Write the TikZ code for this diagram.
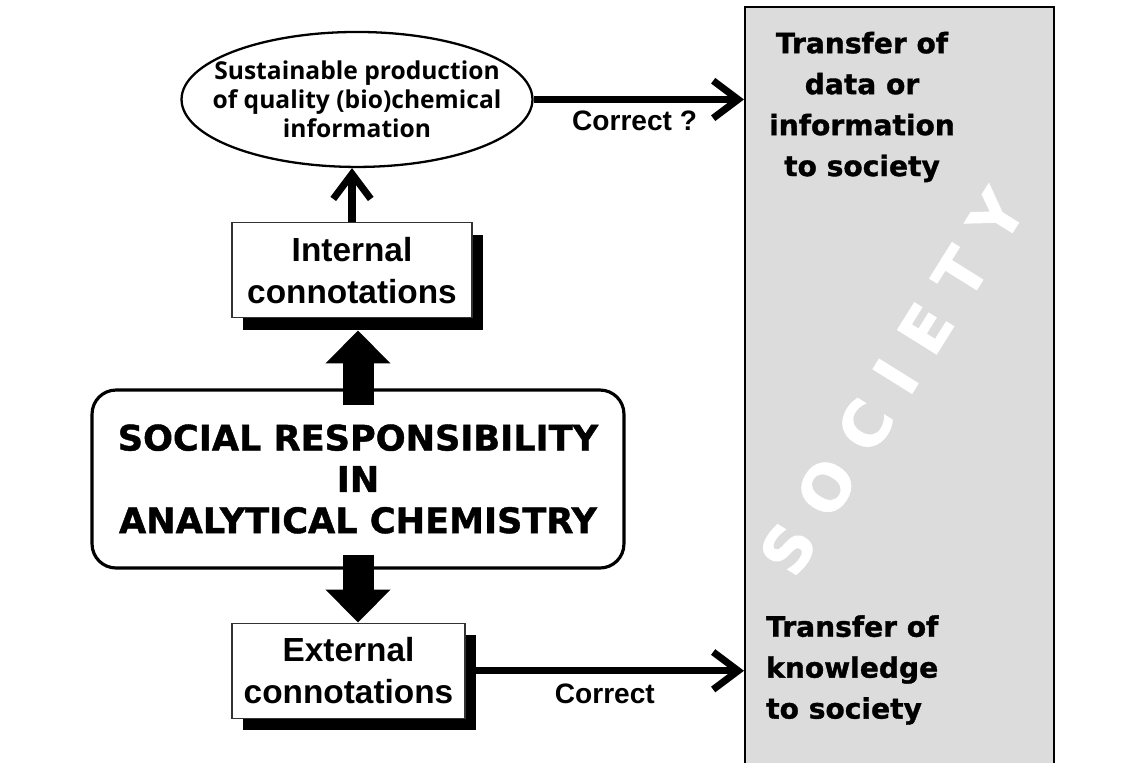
\documentclass[tikz,border=0pt]{standalone}
\usepackage{fontspec}
\setmainfont{Liberation Sans}
\newfontfamily\blackfont{DejaVu Sans}[BoldFeatures={FakeBold=1.2}]
\newfontfamily\ellfont{Open Sans}
\usetikzlibrary{positioning,shapes.geometric,arrows.meta,shadows,calc}
\definecolor{socgray}{RGB}{220,220,220}
\newcommand{\gapl}{\kern13pt}

\begin{document}
\begin{tikzpicture}[x=0.02cm, y=-0.02cm,
    connbox/.style={rectangle, draw=black!80, fill=white, line width=0.8pt, minimum width=4.8cm, minimum height=1.9cm, align=center, font=\fontsize{19}{24}\selectfont\bfseries, drop shadow={shadow xshift=0.22cm, shadow yshift=-0.24cm, fill=black, opacity=1}},
    thinarrow/.style={line width=4pt, -{Straight Barb[length=0.5cm, width=0.75cm]}},
    blockarrow/.style={line width=0.62cm, -{Triangle[length=0.66cm, width=1.26cm]}},
    corrlabel/.style={font=\fontsize{16}{19}\selectfont\bfseries},
    soctext/.style={font=\blackfont\fontsize{16}{23.3}\selectfont\bfseries},
    socword/.style={text=white, rotate=58, inner sep=0pt, font=\blackfont\fontsize{36}{38}\selectfont\bfseries}]

  \clip (0,0) rectangle (1138,762);

  % society column
  \node[rectangle, draw, line width=1pt, fill=socgray, minimum width=6.18cm, minimum height=15.5cm, anchor=north west] (soc) at (744,6) {};
  \node[socword] (socname) at (892,382) {S\gapl O\gapl C\gapl I\gapl E\gapl T\gapl Y};
  \node[soctext, align=center] (infotext) at (862,107) {Transfer of\\data or\\information\\to society};
  \node[soctext, align=left, anchor=west] (knowtext) at (760,670) {Transfer of\\knowledge\\to society};

  % main blocks
  \node[rectangle, rounded corners=0.48cm, draw, line width=1.8pt, minimum width=10.64cm, minimum height=3.56cm, align=center, font=\blackfont\fontsize{20}{23.5}\selectfont\bfseries] (sr) at (358,479) {SOCIAL RESPONSIBILITY\\IN\\ANALYTICAL CHEMISTRY};
  \node[connbox] (int) [above=1.4cm of sr, xshift=-0.12cm] {Internal\\connotations};
  \node[connbox, minimum width=4.66cm] (ext) [below=1.06cm of sr, xshift=-0.19cm] {External\\connotations};
  \node[ellipse, draw, line width=1.3pt, minimum width=7.02cm, minimum height=2.7cm, inner xsep=-0.6cm, inner ysep=-0.2cm, align=center, font=\ellfont\fontsize{14}{16.5}\selectfont\bfseries] (ell) [above=1.08cm of int, xshift=0.1cm] {Sustainable production\\of quality (bio)chemical\\information};

  % arrows
  \draw[blockarrow] ([yshift=-0.34cm]sr.north) -- ($(sr.north |- int.south)+(0,12)$);
  \draw[blockarrow] ([yshift=0.3cm]sr.south) -- (sr.south |- ext.north);
  \draw[thinarrow] (int.north) -- (int.north |- ell.south);
  \draw[thinarrow] (ell.east) -- (ell.east -| soc.west) node[corrlabel, pos=0.48, below=1pt] (corr1) {Correct ?};
  \draw[thinarrow] (ext.east) -- (ext.east -| soc.west) node[corrlabel, midway, below=2pt] (corr2) {Correct};

\end{tikzpicture}
\end{document}
